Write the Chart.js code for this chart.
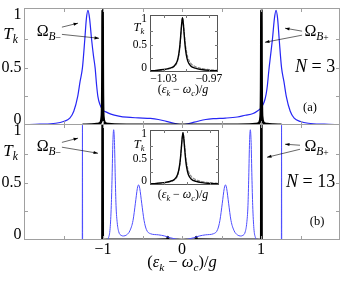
<!DOCTYPE html>
<html><head><meta charset="utf-8">
<script src="https://cdn.jsdelivr.net/npm/chart.js@4"></script>
<style>
html,body{margin:0;padding:0;background:#fff;}
#wrap{position:relative;width:345px;height:292px;overflow:hidden;}
canvas{position:absolute;left:0;top:0;}
</style></head><body>
<div id="wrap">
<canvas id="ca" width="345" height="292"></canvas>
<canvas id="cb" width="345" height="292"></canvas>
<canvas id="cia" width="345" height="292"></canvas>
<canvas id="cib" width="345" height="292"></canvas>
</div>
<script>
// ---------- data ----------
// Panel (a), N = 3 : blue curve
const aBlueX = [-2, -1.8, -1.6, -1.5, -1.42, -1.37, -1.32, -1.29, -1.26, -1.23, -1.21, -1.19, -1.17, -1.145, -1.12, -1.1, -1.08, -1.065, -1.04, -1.0, -0.95, -0.9, -0.8, -0.7, -0.55, -0.4, -0.3, -0.2, -0.1, 0,
  0.1, 0.2, 0.3, 0.4, 0.55, 0.7, 0.8, 0.9, 0.95, 1.0, 1.04, 1.065, 1.08, 1.1, 1.12, 1.145, 1.17, 1.19, 1.21, 1.23, 1.26, 1.29, 1.32, 1.37, 1.42, 1.5, 1.6, 1.8, 2];
const aBlueY = [0.003, 0.007, 0.015, 0.03, 0.06, 0.12, 0.25, 0.38, 0.5, 0.75, 0.93, 1.0, 0.93, 0.75, 0.6, 0.5, 0.34, 0.25, 0.18, 0.13, 0.11, 0.095, 0.078, 0.068, 0.062, 0.057, 0.048, 0.032, 0.015, 0.002,
  0.015, 0.033, 0.048, 0.055, 0.06, 0.07, 0.085, 0.1, 0.12, 0.15, 0.2, 0.27, 0.34, 0.48, 0.6, 0.75, 0.93, 1.0, 0.93, 0.75, 0.5, 0.38, 0.25, 0.12, 0.06, 0.03, 0.015, 0.007, 0.003];
// Panel (a): black curve
const aBlackX = [-1.25, -1.15, -1.08, -1.04, -1.025, -1.017, -1.012, -1.0085, -1.007, -1.006, -1.005, -1.004, -1.003, -1.0015, -0.998, -0.993, -0.985, -0.97, -0.93, -0.85, -0.5, 0,
  0.5, 0.85, 0.93, 0.97, 0.985, 0.993, 0.998, 1.0015, 1.003, 1.004, 1.005, 1.006, 1.007, 1.0085, 1.012, 1.017, 1.025, 1.04, 1.08, 1.15, 1.25];
const aBlackY = [0.002, 0.004, 0.008, 0.015, 0.03, 0.06, 0.12, 0.32, 0.55, 0.85, 1.0, 0.85, 0.55, 0.32, 0.12, 0.06, 0.03, 0.015, 0.008, 0.004, 0.002, 0.002,
  0.002, 0.004, 0.008, 0.015, 0.03, 0.06, 0.12, 0.32, 0.55, 0.85, 1.0, 0.85, 0.55, 0.32, 0.12, 0.06, 0.03, 0.015, 0.008, 0.004, 0.002];
// Panel (b), N = 13 : blue curve
const bBlueX = [-1.262, -1.26, -1.258, -1.1, -0.95, -0.93, -0.91, -0.895, -0.885, -0.875, -0.865, -0.855, -0.845, -0.835, -0.82, -0.8, -0.77, -0.74, -0.7, -0.66, -0.62, -0.59, -0.565, -0.55, -0.535, -0.51, -0.48, -0.45, -0.4, -0.3, -0.22, -0.15, -0.08, 0,
  0.08, 0.15, 0.22, 0.3, 0.4, 0.45, 0.48, 0.51, 0.535, 0.55, 0.565, 0.59, 0.62, 0.66, 0.7, 0.74, 0.77, 0.8, 0.82, 0.835, 0.845, 0.855, 0.865, 0.875, 0.885, 0.895, 0.91, 0.93, 0.95, 1.1, 1.258, 1.26, 1.262];
const bBlueY = [0, 1.0, 0, 0.001, 0.003, 0.02, 0.1, 0.3, 0.55, 0.85, 0.96, 0.85, 0.55, 0.3, 0.15, 0.07, 0.04, 0.035, 0.045, 0.08, 0.17, 0.32, 0.45, 0.48, 0.45, 0.32, 0.17, 0.09, 0.055, 0.045, 0.035, 0.02, 0.008, 0,
  0.008, 0.02, 0.035, 0.045, 0.055, 0.09, 0.17, 0.32, 0.45, 0.48, 0.45, 0.32, 0.17, 0.08, 0.045, 0.035, 0.04, 0.07, 0.15, 0.3, 0.55, 0.85, 0.96, 0.85, 0.55, 0.3, 0.1, 0.02, 0.003, 0.001, 0, 1.0, 0];
// Panel (b): black curve
const bBlackX = [-1.007, -1.005, -1.003, -0.9, -0.5, -0.2, -0.185, -0.18, -0.175, -0.1, 0, 0.1, 0.175, 0.18, 0.185, 0.2, 0.5, 0.9, 1.003, 1.005, 1.007];
const bBlackY = [0, 1.02, 0, 0.002, 0.002, 0.003, 0.005, 0.025, 0.005, 0.002, 0.0, 0.002, 0.005, 0.025, 0.005, 0.003, 0.002, 0.002, 0, 1.02, 0];
// Insets (zoom on the peak near -1)
const iaX = [-1.048, -1.04, -1.03, -1.022, -1.016, -1.012, -1.01, -1.0085, -1.007, -1.006, -1.005, -1.004, -1.003, -1.0015, -1.0, -0.998, -0.994, -0.988, -0.98, -0.97, -0.958];
const iaSolid = [0.022, 0.03, 0.045, 0.07, 0.11, 0.2, 0.32, 0.48, 0.73, 0.9, 1.0, 0.9, 0.73, 0.48, 0.32, 0.2, 0.11, 0.07, 0.045, 0.03, 0.022];
const iaDashed = [0.018, 0.025, 0.04, 0.06, 0.1, 0.18, 0.3, 0.46, 0.72, 0.9, 1.0, 0.92, 0.78, 0.55, 0.4, 0.27, 0.16, 0.1, 0.065, 0.045, 0.03];
const ibX = [-1.048, -1.04, -1.03, -1.022, -1.016, -1.012, -1.01, -1.0085, -1.007, -1.006, -1.005, -1.004, -1.003, -1.0015, -1.0, -0.998, -0.994, -0.988, -0.98, -0.97, -0.958];
const ibSolid = [0.022, 0.03, 0.045, 0.07, 0.11, 0.2, 0.32, 0.48, 0.73, 0.9, 1.0, 0.9, 0.73, 0.48, 0.32, 0.2, 0.11, 0.07, 0.045, 0.03, 0.022];
const ibDashed = [0.018, 0.025, 0.04, 0.06, 0.1, 0.18, 0.3, 0.46, 0.72, 0.9, 1.0, 0.92, 0.78, 0.55, 0.4, 0.27, 0.16, 0.1, 0.065, 0.045, 0.03];
// Ticks and tick labels
const mainXTicks = [-1.5, -1, -0.5, 0, 0.5, 1, 1.5];
const mainYTicks = [0.25, 0.5, 0.75];
const mainYLabelVals = [0, 0.5, 1];
const mainYLabels = ['0', '0.5', '1'];
const bXLabelVals = [-1, 0, 1];
const bXLabels = ['\u22121', '0', '1'];
const insetXTicks = [-1.03, -1.0, -0.97];
const insetYTicks = [0.25, 0.5, 0.75];
const insetXLabelVals = [-1.03, -0.97];
const insetXLabels = ['\u22121.03', '\u22120.97'];

// ---------- helpers ----------
const SERIF = '"Liberation Serif", "DejaVu Serif", serif';
const pts = (xs, ys) => xs.map((x, i) => ({x: x, y: ys[i]}));

function richWidth(ctx, parts, size) {
  let w = 0;
  parts.forEach(p => { ctx.font = (p[1] === 'i' ? 'italic ' : '') + (size * (p[2] || 1)).toFixed(1) + 'px ' + SERIF; w += ctx.measureText(p[0]).width; });
  return w;
}
function drawRich(ctx, parts, x, y, align, size) {
  const w = richWidth(ctx, parts, size);
  let cx = align === 'center' ? x - w / 2 : (align === 'right' ? x - w : x);
  ctx.textAlign = 'left'; ctx.textBaseline = 'middle'; ctx.fillStyle = '#000';
  parts.forEach(p => {
    ctx.font = (p[1] === 'i' ? 'italic ' : '') + (size * (p[2] || 1)).toFixed(1) + 'px ' + SERIF;
    ctx.fillText(p[0], cx, y + (p[3] || 0) * size);
    cx += ctx.measureText(p[0]).width;
  });
}
function arrow(ctx, x1, y1, x2, y2) {
  ctx.strokeStyle = '#000'; ctx.fillStyle = '#000'; ctx.lineWidth = 0.6;
  ctx.beginPath(); ctx.moveTo(x1, y1); ctx.lineTo(x2, y2); ctx.stroke();
  const ang = Math.atan2(y2 - y1, x2 - x1), L = 4.5, W = 1.6;
  ctx.beginPath();
  ctx.moveTo(x2, y2);
  ctx.lineTo(x2 - L * Math.cos(ang) + W * Math.sin(ang), y2 - L * Math.sin(ang) - W * Math.cos(ang));
  ctx.lineTo(x2 - L * Math.cos(ang) - W * Math.sin(ang), y2 - L * Math.sin(ang) + W * Math.cos(ang));
  ctx.closePath(); ctx.fill();
}

const TK = [['T', 'i', 1, 0], ['k', 'i', 0.68, 0.32]];
const OMm = [['\u03A9', 'n', 1, 0], ['B', 'i', 0.72, 0.3], ['\u2212', 'n', 0.6, 0.42]];
const OMp = [['\u03A9', 'n', 1, 0], ['B', 'i', 0.72, 0.3], ['+', 'n', 0.6, 0.42]];
const XT = [['(', 'n', 1, 0], ['\u03B5', 'i', 1, 0], ['k', 'i', 0.68, 0.3], [' \u2212 ', 'n', 1, 0], ['\u03C9', 'i', 1, 0], ['c', 'i', 0.68, 0.3], [')/', 'n', 1, 0], ['g', 'i', 1, 0]];

function deco(cfg) {
  return {
    id: 'deco',
    beforeDatasetsDraw(chart) {
      if (cfg.fill) {
        const a = chart.chartArea, c = chart.ctx;
        c.save(); c.fillStyle = '#fff'; c.fillRect(a.left, a.top, a.right - a.left, a.bottom - a.top); c.restore();
      }
    },
    afterDraw(chart) {
      const c = chart.ctx, a = chart.chartArea, xs = chart.scales.x, ys = chart.scales.y;
      const X = v => xs.getPixelForValue(v), Y = v => ys.getPixelForValue(v);
      c.save();
      c.strokeStyle = cfg.frame; c.lineWidth = 1;
      c.strokeRect(a.left + 0.5, a.top + 0.5, a.right - a.left - 1, a.bottom - a.top - 1);
      c.strokeStyle = cfg.tick; c.beginPath();
      cfg.xTicks.forEach(v => { const p = Math.round(X(v)) + 0.5; c.moveTo(p, a.bottom); c.lineTo(p, a.bottom - cfg.tl); c.moveTo(p, a.top); c.lineTo(p, a.top + cfg.tl); });
      cfg.yTicks.forEach(v => { const p = Math.round(Y(v)) + 0.5; c.moveTo(a.left, p); c.lineTo(a.left + cfg.tl, p); c.moveTo(a.right, p); c.lineTo(a.right - cfg.tl, p); });
      c.stroke();
      // y tick labels (kept inside frame height, as in the reference)
      c.fillStyle = '#000'; c.textAlign = 'right'; c.textBaseline = 'middle';
      c.font = cfg.ylSize + 'px ' + SERIF;
      cfg.yLabelVals.forEach((v, i) => {
        let py = Y(v);
        py = Math.max(a.top + cfg.ylClampTop, Math.min(a.bottom - cfg.ylClampBot, py));
        c.fillText(cfg.yLabels[i], a.left - cfg.ylPad, py);
      });
      if (cfg.xLabelVals) {
        c.textAlign = 'center'; c.font = cfg.xlSize + 'px ' + SERIF;
        cfg.xLabelVals.forEach((v, i) => c.fillText(cfg.xLabels[i], X(v), a.bottom + cfg.xlDy));
      }
      (cfg.texts || []).forEach(t => drawRich(c, t.p, X(t.x), Y(t.y), t.align, t.size));
      (cfg.arrows || []).forEach(r => arrow(c, X(r[0]), Y(r[1]), X(r[2]), Y(r[3])));
      c.restore();
    }
  };
}
function opts(pad, xmin, xmax, ymin, ymax) {
  return {
    responsive: false, animation: false, devicePixelRatio: 1,
    layout: {padding: pad},
    plugins: {legend: {display: false}, tooltip: {enabled: false}},
    elements: {point: {radius: 0}, line: {cubicInterpolationMode: 'monotone', borderJoinStyle: 'round', borderCapStyle: 'round'}},
    scales: {
      x: {type: 'linear', min: xmin, max: xmax, display: false},
      y: {type: 'linear', min: ymin, max: ymax, display: false}
    }
  };
}

// ---------- panel (a) ----------
new Chart(document.getElementById('ca'), {
  type: 'line',
  data: {datasets: [
    {data: pts(aBlackX, aBlackY), borderColor: '#000', borderWidth: 2.6},
    {data: pts(aBlueX, aBlueY), borderColor: '#2626f5', borderWidth: 1.2}
  ]},
  options: opts({left: 24, right: 5, top: 8, bottom: 167}, -2, 2, 0, 1.02),
  plugins: [deco({
    frame: '#a0a0a0', tick: '#a0a0a0', tl: 4,
    xTicks: mainXTicks, yTicks: mainYTicks,
    yLabelVals: mainYLabelVals, yLabels: mainYLabels, ylSize: 16, ylPad: 2.5, ylClampTop: 7, ylClampBot: 5,
    texts: [
      {p: TK, x: -2.17, y: 0.79, align: 'center', size: 17},
      {p: OMm, x: -1.84, y: 0.81, align: 'left', size: 16},
      {p: OMp, x: 1.55, y: 0.81, align: 'left', size: 16},
      {p: [['N', 'i', 1, 0], [' = 3', 'n', 1, 0]], x: 1.94, y: 0.5, align: 'right', size: 18},
      {p: [['(a)', 'n', 1, 0]], x: 1.62, y: 0.15, align: 'center', size: 12.5}
    ],
    arrows: [[-1.52, 0.853, -1.316, 0.888], [-1.52, 0.79, -1.05, 0.756], [1.52, 0.818, 1.304, 0.844], [1.52, 0.783, 1.05, 0.721]]
  })]
});

// ---------- panel (b) ----------
new Chart(document.getElementById('cb'), {
  type: 'line',
  data: {datasets: [
    {data: pts(bBlueX, bBlueY), borderColor: '#4d4dff', borderWidth: 1},
    {data: pts(bBlackX, bBlackY), borderColor: '#000', borderWidth: 2.6}
  ]},
  options: opts({left: 24, right: 5, top: 124, bottom: 52}, -2, 2, 0, 1.01),
  plugins: [deco({
    frame: '#a0a0a0', tick: '#a0a0a0', tl: 4,
    xTicks: mainXTicks, yTicks: mainYTicks,
    yLabelVals: mainYLabelVals, yLabels: mainYLabels, ylSize: 16, ylPad: 2.5, ylClampTop: 7, ylClampBot: 5,
    xLabelVals: bXLabelVals, xLabels: bXLabels, xlSize: 16, xlDy: 10,
    texts: [
      {p: TK, x: -2.17, y: 0.77, align: 'center', size: 17},
      {p: XT, x: 0, y: -0.2, align: 'center', size: 16.5},
      {p: OMm, x: -1.84, y: 0.81, align: 'left', size: 16},
      {p: OMp, x: 1.55, y: 0.81, align: 'left', size: 16},
      {p: [['N', 'i', 1, 0], [' = 13', 'n', 1, 0]], x: 1.94, y: 0.5, align: 'right', size: 18},
      {p: [['(b)', 'n', 1, 0]], x: 1.71, y: 0.158, align: 'center', size: 12.5}
    ],
    arrows: [[-1.52, 0.85, -1.316, 0.887], [-1.52, 0.808, -1.063, 0.755], [1.494, 0.825, 1.304, 0.834], [1.494, 0.79, 1.076, 0.72]]
  })]
});

// ---------- inset (a) ----------
new Chart(document.getElementById('cia'), {
  type: 'line',
  data: {datasets: [
    {data: pts(iaX, iaSolid), borderColor: '#000', borderWidth: 1.4},
    {data: pts(iaX, iaDashed), borderColor: '#8a8a8a', borderWidth: 1.2, borderDash: [2.5, 2]}
  ]},
  options: opts({left: 150, right: 127, top: 15, bottom: 220}, -1.048, -0.958, 0, 1.05),
  plugins: [deco({
    fill: true, frame: '#555', tick: '#777', tl: 3,
    xTicks: insetXTicks, yTicks: insetYTicks,
    yLabelVals: mainYLabelVals, yLabels: mainYLabels, ylSize: 11.5, ylPad: 3, ylClampTop: 4, ylClampBot: 4,
    xLabelVals: insetXLabelVals, xLabels: insetXLabels, xlSize: 11.5, xlDy: 7,
    texts: [
      {p: TK, x: -1.0626, y: 0.81, align: 'center', size: 12.5},
      {p: XT, x: -1.0043, y: -0.33, align: 'center', size: 12}
    ]
  })]
});

// ---------- inset (b) ----------
new Chart(document.getElementById('cib'), {
  type: 'line',
  data: {datasets: [
    {data: pts(ibX, ibSolid), borderColor: '#000', borderWidth: 1.4},
    {data: pts(ibX, ibDashed), borderColor: '#8a8a8a', borderWidth: 1.2, borderDash: [2.5, 2]}
  ]},
  options: opts({left: 150, right: 126, top: 130, bottom: 107}, -1.048, -0.958, 0, 1.05),
  plugins: [deco({
    fill: true, frame: '#555', tick: '#777', tl: 3,
    xTicks: insetXTicks, yTicks: insetYTicks,
    yLabelVals: mainYLabelVals, yLabels: mainYLabels, ylSize: 11.5, ylPad: 3, ylClampTop: 4, ylClampBot: 4,
    texts: [
      {p: TK, x: -1.0623, y: 0.76, align: 'center', size: 12.5},
      {p: XT, x: -1.005, y: -0.19, align: 'center', size: 12}
    ]
  })]
});
</script>
</body></html>
